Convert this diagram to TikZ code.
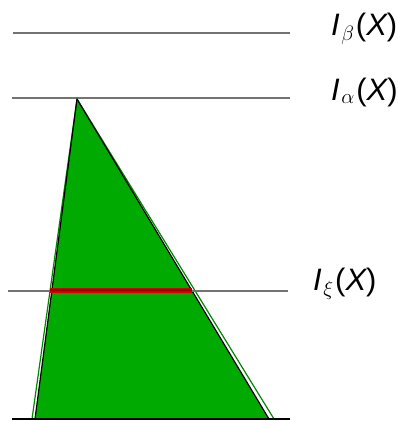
\documentclass[tikz,border=0pt]{standalone}
\usepackage{fontspec}
\setmainfont{Liberation Sans}
\begin{document}
\begin{tikzpicture}[x=1pt,y=-1pt,
  level/.style={draw=black!55, line width=1.3pt},
  lab/.style={font=\fontsize{31}{35}\selectfont, inner sep=0pt, anchor=base west},
]
\useasboundingbox (0,0) rectangle (397,421);
\definecolor{tgreen}{RGB}{0,170,0}
\definecolor{tred}{RGB}{210,0,0}
\definecolor{tdred}{RGB}{140,0,0}
% levels
\coordinate (b1) at (13,33);  \coordinate (b2) at (290,33);
\coordinate (a1) at (12,98);  \coordinate (a2) at (290,98);
\coordinate (x1) at (8,291);  \coordinate (x2) at (288,291);
\coordinate (z1) at (12,419); \coordinate (z2) at (290,419);
\draw[level] (b1) -- (b2);
\draw[level] (a1) -- (a2);
% triangle
\coordinate (A) at (77,99);
\coordinate (L) at (35,419);
\coordinate (R) at (269,419);
\coordinate (Lg) at (32,419);
\coordinate (Rg) at (274,419);
\fill[tgreen] (A) -- (L) -- (R) -- cycle;
\draw[tgreen!80!black, line width=1.2pt] (A) -- (Lg) -- (Rg) -- cycle;
\draw[black, line width=1.2pt] (A) -- (L);
\draw[black, line width=1.2pt] (A) -- (R);
\draw[level] (x1) -- (x2);
\draw[black, line width=1.4pt] (z1) -- (z2);
% red bar
\coordinate (r1) at (50,290);
\coordinate (r2) at (192,290);
\draw[tred, line width=5pt] (r1) -- (r2);
\draw[tdred, line width=2pt] (r1) -- (r2);
% labels
\node[lab] (lb) at (331,35) {\itshape I\kern1.5pt$_\beta$\kern1.5pt\upshape(\itshape X\upshape)};
\node[lab] (la) at (331,100) {\itshape I\kern1.5pt$_\alpha$\kern1.5pt\upshape(\itshape X\upshape)};
\node[lab] (lx) at (313,290) {\itshape I\kern1.5pt$_\xi$\kern1.5pt\upshape(\itshape X\upshape)};
\end{tikzpicture}
\end{document}
